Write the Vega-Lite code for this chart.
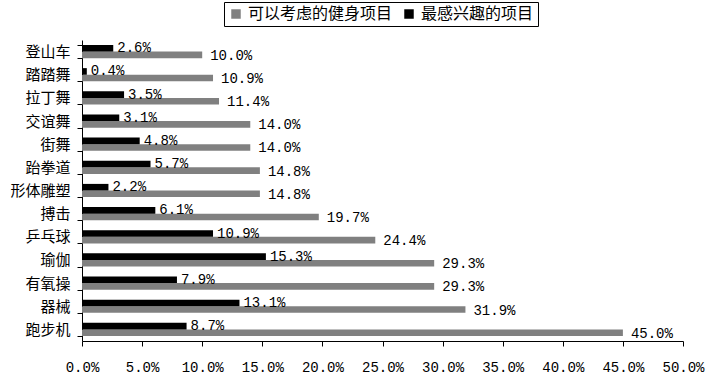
{
  "$schema": "https://vega.github.io/schema/vega-lite/v6.json",
  "autosize": {"type": "none"},
  "width": 601,
  "height": 301,
  "padding": {"left": 82, "top": 40, "right": 26, "bottom": 39},
  "background": "white",
  "config": {"view": {"stroke": null}},
  "data": {
    "values": [
      {"item": "登山车", "series": "可以考虑的健身项目", "value": 0.100},
      {"item": "登山车", "series": "最感兴趣的项目", "value": 0.026},
      {"item": "踏踏舞", "series": "可以考虑的健身项目", "value": 0.109},
      {"item": "踏踏舞", "series": "最感兴趣的项目", "value": 0.004},
      {"item": "拉丁舞", "series": "可以考虑的健身项目", "value": 0.114},
      {"item": "拉丁舞", "series": "最感兴趣的项目", "value": 0.035},
      {"item": "交谊舞", "series": "可以考虑的健身项目", "value": 0.140},
      {"item": "交谊舞", "series": "最感兴趣的项目", "value": 0.031},
      {"item": "街舞", "series": "可以考虑的健身项目", "value": 0.140},
      {"item": "街舞", "series": "最感兴趣的项目", "value": 0.048},
      {"item": "跆拳道", "series": "可以考虑的健身项目", "value": 0.148},
      {"item": "跆拳道", "series": "最感兴趣的项目", "value": 0.057},
      {"item": "形体雕塑", "series": "可以考虑的健身项目", "value": 0.148},
      {"item": "形体雕塑", "series": "最感兴趣的项目", "value": 0.022},
      {"item": "搏击", "series": "可以考虑的健身项目", "value": 0.197},
      {"item": "搏击", "series": "最感兴趣的项目", "value": 0.061},
      {"item": "乒乓球", "series": "可以考虑的健身项目", "value": 0.244},
      {"item": "乒乓球", "series": "最感兴趣的项目", "value": 0.109},
      {"item": "瑜伽", "series": "可以考虑的健身项目", "value": 0.293},
      {"item": "瑜伽", "series": "最感兴趣的项目", "value": 0.153},
      {"item": "有氧操", "series": "可以考虑的健身项目", "value": 0.293},
      {"item": "有氧操", "series": "最感兴趣的项目", "value": 0.079},
      {"item": "器械", "series": "可以考虑的健身项目", "value": 0.319},
      {"item": "器械", "series": "最感兴趣的项目", "value": 0.131},
      {"item": "跑步机", "series": "可以考虑的健身项目", "value": 0.450},
      {"item": "跑步机", "series": "最感兴趣的项目", "value": 0.087}
    ]
  },
  "encoding": {
    "y": {
      "field": "item",
      "type": "nominal",
      "sort": null,
      "title": null,
      "scale": {"paddingInner": 0.43, "paddingOuter": 0.215},
      "axis": {
        "domainColor": "black",
        "tickColor": "black",
        "tickSize": 5,
        "tickBand": "extent",
        "labelPadding": 7,
        "labelFont": "Noto Sans CJK SC",
        "labelFontSize": 15,
        "labelColor": "black"
      }
    },
    "yOffset": {
      "field": "series",
      "type": "nominal",
      "scale": {"domain": ["最感兴趣的项目", "可以考虑的健身项目"], "paddingInner": 0, "paddingOuter": 0}
    },
    "x": {
      "field": "value",
      "type": "quantitative",
      "title": null,
      "scale": {"domain": [0, 0.5], "nice": false},
      "axis": {
        "format": ".1%",
        "values": [0, 0.05, 0.1, 0.15, 0.2, 0.25, 0.3, 0.35, 0.4, 0.45, 0.5],
        "grid": false,
        "domainColor": "black",
        "tickColor": "black",
        "tickSize": 5,
        "labelPadding": 14,
        "labelFont": "Liberation Mono",
        "labelFontSize": 14,
        "labelColor": "black",
        "labelFlush": false
      }
    }
  },
  "layer": [
    {
      "mark": {"type": "bar"},
      "encoding": {
        "color": {
          "field": "series",
          "type": "nominal",
          "scale": {"domain": ["可以考虑的健身项目", "最感兴趣的项目"], "range": ["#808080", "#000000"]},
          "legend": {
            "title": null,
            "orient": "none",
            "direction": "horizontal",
            "legendX": 142,
            "legendY": -38,
            "strokeColor": "black",
            "padding": 4,
            "symbolType": "square",
            "symbolSize": 90,
            "symbolStrokeWidth": 0,
            "labelFont": "Noto Sans CJK SC",
            "labelFontSize": 16,
            "labelColor": "black",
            "columnPadding": 8
          }
        }
      }
    },
    {
      "transform": [{"filter": "datum.series === '最感兴趣的项目'"}],
      "mark": {"type": "text", "align": "left", "baseline": "middle", "dx": 4, "font": "Liberation Mono", "fontSize": 14, "color": "black"},
      "encoding": {
        "text": {"field": "value", "type": "quantitative", "format": ".1%"}
      }
    },
    {
      "transform": [{"filter": "datum.series === '可以考虑的健身项目'"}],
      "mark": {"type": "text", "align": "left", "baseline": "middle", "dx": 8, "dy": 1, "font": "Liberation Mono", "fontSize": 14, "color": "black"},
      "encoding": {
        "text": {"field": "value", "type": "quantitative", "format": ".1%"}
      }
    }
  ]
}
